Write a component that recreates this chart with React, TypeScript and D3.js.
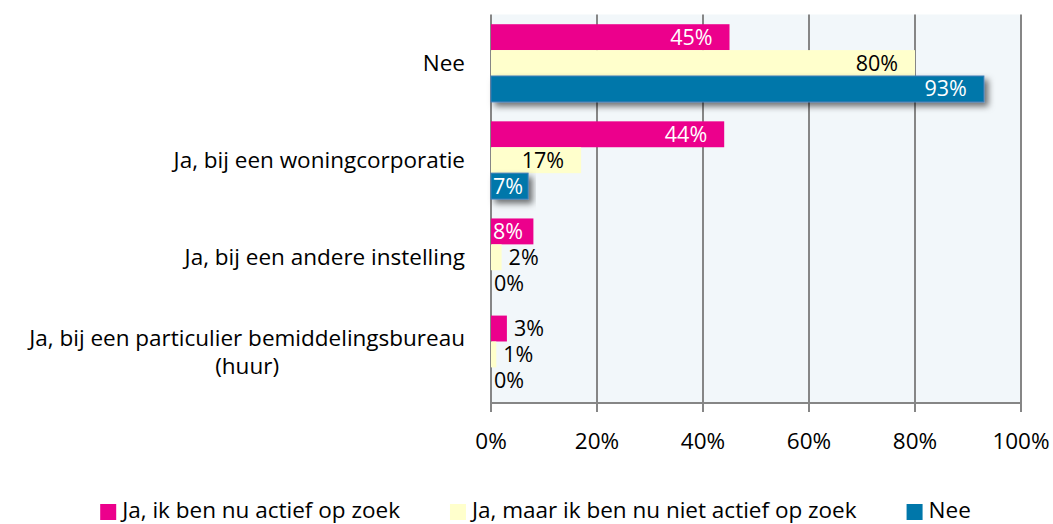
import React, { useEffect, useRef } from 'react';
import * as d3 from 'd3';

const categoryLines = [
  ['Nee'],
  ['Ja, bij een woningcorporatie'],
  ['Ja, bij een andere instelling'],
  ['Ja, bij een particulier bemiddelingsbureau', '(huur)'],
];
const seriesNames = [
  'Ja, ik ben nu actief op zoek',
  'Ja, maar ik ben nu niet actief op zoek',
  'Nee',
];
const activeValues = [45, 44, 8, 3];
const passiveValues = [80, 17, 2, 1];
const neeValues = [93, 7, 0, 0];
const xTicks = [0, 20, 40, 60, 80, 100];

const colors = ['#EC008C', '#FFFFCC', '#0077AA'];
const labelColors = ['#ffffff', '#000000', '#ffffff'];
const FONT = '"Open Sans", sans-serif';
const FS = '22.5px';
const VFS = '21.5px';

const App = () => {
  const ref = useRef<SVGSVGElement>(null);

  useEffect(() => {
    document.body.style.margin = '0';
    const svg = d3.select(ref.current);
    svg.selectAll('*').remove();

    const W = 1053;
    const H = 524;
    const margin = { top: 14.5, right: 32, bottom: 121, left: 491 };
    const series = [activeValues, passiveValues, neeValues];
    const keys = categoryLines.map((l) => l.join(' '));

    const x = d3.scaleLinear().domain([0, 100]).range([margin.left, W - margin.right]);
    const y = d3.scaleBand()
      .domain(keys)
      .range([margin.top, H - margin.bottom])
      .paddingInner(0.2)
      .paddingOuter(0.1);
    const ySub = d3.scaleBand()
      .domain(seriesNames)
      .range([0, y.bandwidth()]);

    const defs = svg.append('defs');
    const f = defs.append('filter').attr('id', 'shadow')
      .attr('x', '-10%').attr('y', '-30%').attr('width', '130%').attr('height', '180%');
    f.append('feDropShadow')
      .attr('dx', 4).attr('dy', 4).attr('stdDeviation', 3)
      .attr('flood-color', '#000').attr('flood-opacity', 0.55);

    // plot background
    svg.append('rect')
      .attr('x', x(0)).attr('y', margin.top)
      .attr('width', x(100) - x(0)).attr('height', H - margin.bottom - margin.top)
      .attr('fill', '#F2F7FA');

    // gridlines + ticks
    svg.append('g').selectAll('line')
      .data(xTicks)
      .enter()
      .append('line')
      .attr('x1', (d) => x(d)).attr('x2', (d) => x(d))
      .attr('y1', margin.top).attr('y2', H - margin.bottom + 9)
      .attr('stroke', '#868686').attr('stroke-width', 2);

    svg.append('line')
      .attr('x1', x(0) - 1).attr('x2', x(100) + 1)
      .attr('y1', H - margin.bottom).attr('y2', H - margin.bottom)
      .attr('stroke', '#868686').attr('stroke-width', 2);

    svg.append('g').selectAll('text')
      .data(xTicks)
      .enter()
      .append('text')
      .attr('x', (d) => x(d))
      .attr('y', 441)
      .attr('dy', '0.35em')
      .attr('text-anchor', 'middle')
      .style('font-family', FONT)
      .style('font-size', FS)
      .text((d) => `${d}%`);

    // bars
    series.forEach((vals, si) => {
      const g = svg.append('g');
      g.selectAll('rect')
        .data(vals)
        .enter()
        .append('rect')
        .attr('x', x(0))
        .attr('y', (d, i) => y(keys[i])! + ySub(seriesNames[si])!)
        .attr('width', (d) => x(d) - x(0))
        .attr('height', ySub.bandwidth())
        .attr('fill', colors[si])
        .attr('stroke', si === 2 ? '#3F7DB8' : 'none')
        .attr('stroke-width', si === 2 ? 1 : 0)
        .attr('filter', si === 2 ? 'url(#shadow)' : null);
    });

    // value labels (inside end when they fit, else just past the bar)
    series.forEach((vals, si) => {
      vals.forEach((v, i) => {
        const cy = y(keys[i])! + ySub(seriesNames[si])! + ySub.bandwidth() / 2;
        const t = svg.append('text')
          .attr('y', cy)
          .attr('dy', '0.35em')
          .style('font-family', FONT)
          .style('font-size', VFS)
          .text(`${v}%`);
        const w = (t.node() as SVGTextElement).getComputedTextLength();
        const barEnd = x(v);
        const bw = barEnd - x(0);
        if (bw >= w + 2) {
          const start = Math.max(barEnd - 17 - w, x(0) + 2);
          t.attr('x', start).attr('fill', labelColors[si]);
        } else {
          t.attr('x', barEnd + (v > 0 ? 7 : 3)).attr('fill', '#000');
        }
      });
    });

    // category labels
    categoryLines.forEach((lines, i) => {
      const cy = y(keys[i])! + y.bandwidth() / 2;
      if (lines.length === 1) {
        svg.append('text')
          .attr('x', 465).attr('y', cy).attr('dy', '0.35em')
          .attr('text-anchor', 'end')
          .style('font-family', FONT).style('font-size', FS)
          .text(lines[0]);
      } else {
        const t1 = svg.append('text')
          .attr('x', 465).attr('y', cy - 16).attr('dy', '0.35em')
          .attr('text-anchor', 'end')
          .style('font-family', FONT).style('font-size', FS)
          .text(lines[0]);
        const w1 = (t1.node() as SVGTextElement).getComputedTextLength();
        svg.append('text')
          .attr('x', 465 - w1 / 2).attr('y', cy + 12).attr('dy', '0.35em')
          .attr('text-anchor', 'middle')
          .style('font-family', FONT).style('font-size', FS)
          .text(lines[1]);
      }
    });

    // legend
    const legend = svg.append('g');
    let lx = 0;
    seriesNames.forEach((name, si) => {
      const item = legend.append('g').attr('transform', `translate(${lx},0)`);
      item.append('rect')
        .attr('x', 0).attr('y', 504).attr('width', 16).attr('height', 16)
        .attr('fill', colors[si]);
      const t = item.append('text')
        .attr('x', 22).attr('y', 510).attr('dy', '0.35em')
        .style('font-family', FONT).style('font-size', FS)
        .text(name);
      const w = (t.node() as SVGTextElement).getComputedTextLength();
      lx += 22 + w + 50;
    });
    const total = lx - 50;
    legend.attr('transform', `translate(${535.5 - total / 2},0)`);
  }, []);

  return <svg ref={ref} width={1053} height={524} style={{ display: 'block' }} />;
};

export default App;
